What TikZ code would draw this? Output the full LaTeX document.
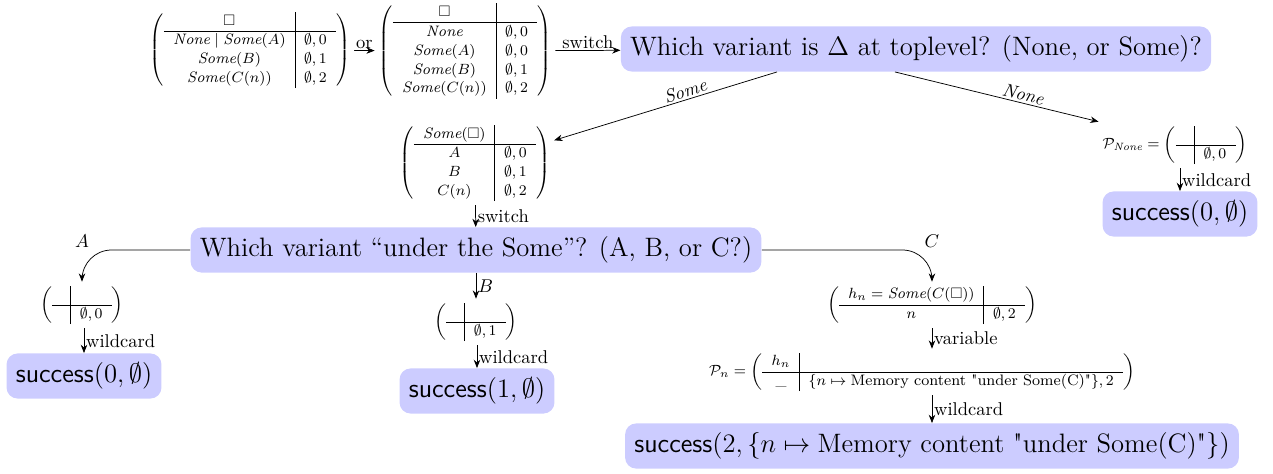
\documentclass[tikz,border=0pt]{standalone}
\usepackage{amsmath}
\usepackage{amssymb}
\usepackage{fontspec}
\usetikzlibrary{arrows.meta, positioning, calc}

\begin{document}
\begin{tikzpicture}[
    scale=0.95,
    >={Stealth[length=4.5pt, width=3.5pt]},
    arr/.style={->},
    lbl/.style={font=\normalsize, inner sep=1pt},
    mat/.style={font=\fontsize{8.2}{10.2}\selectfont, inner sep=2pt},
    qbox/.style={fill=blue!20, rounded corners=6pt, font=\Large, inner sep=5pt},
]
\useasboundingbox (0,0) rectangle (25.46,-9.46);
% ============================================================
% TOP ROW: initial matrices and first switch
% ============================================================
\node[mat] (m1) at (5.0, -1.0) {$\left(\begin{array}{c|c}
    \square & \\ \hline
    \mathit{None} \mid \mathit{Some}(A) & \emptyset, 0 \\
    \mathit{Some}(B) & \emptyset, 1 \\
    \mathit{Some}(C(n)) & \emptyset, 2
    \end{array}\right)$};
\node[mat] (m2) at (9.3, -1.02) {$\left(\begin{array}{c|c}
    \square & \\ \hline
    \mathit{None} & \emptyset, 0 \\
    \mathit{Some}(A) & \emptyset, 0 \\
    \mathit{Some}(B) & \emptyset, 1 \\
    \mathit{Some}(C(n)) & \emptyset, 2
    \end{array}\right)$};
\node[qbox] (q1) at (18.32, -0.98) {Which variant is $\Delta$ at toplevel? (None, or Some)?};
\draw[arr] (m1) -- node[above, lbl] {or} (m2);
\draw[arr] (m2) -- node[above, lbl] {switch} (q1);
% --- None branch (right) ---
\node[mat] (pnone) at (23.5, -2.9) {$\mathcal{P}_{\mathit{None}} = \left(\begin{array}{c|c}
    & \\ \hline
    & \emptyset, 0
    \end{array}\right)$};
\node[qbox] (sn) at (23.6, -4.28) {\textsf{success}$(0, \emptyset)$};
\draw[arr] ($(q1.south)+(-0.42,0)$) -- node[pos=0.62, above, sloped, lbl] {$\mathit{None}$} (pnone.north west);
\draw[arr] (pnone.south -| sn.north) -- node[right, lbl] {wildcard} (sn.north);
% --- Some branch ---
\node[mat] (m3) at (9.5, -3.26) {$\left(\begin{array}{c|c}
    \mathit{Some}(\square) & \\ \hline
    A & \emptyset, 0 \\
    B & \emptyset, 1 \\
    C(n) & \emptyset, 2
    \end{array}\right)$};
\draw[arr] ($(q1.south)+(-2.78,0)$) -- node[pos=0.4, above, sloped, lbl] {$\mathit{Some}$} (m3.16);
% ============================================================
% SECOND SWITCH: under the Some
% ============================================================
\node[qbox] (q2) at (9.52, -5.0) {Which variant ``under the Some''? (A, B, or C?)};
\draw[arr] (m3) -- node[right, lbl] {switch} (q2);
% --- A ---
\node[mat] (pa) at (1.64, -6.1) {$\left(\begin{array}{c|c}
    & \\ \hline
    & \emptyset, 0
    \end{array}\right)$};
\node[qbox] (sa) at (1.68, -7.52) {\textsf{success}$(0, \emptyset)$};
\draw[arr, rounded corners=16pt] (q2.west) -| node[pos=0.5, above, lbl] {$A$} (pa.north);
\draw[arr] (pa.south -| sa.north) -- node[right, lbl] {wildcard} (sa.north);
% --- B ---
\node[mat] (pb) at (9.52, -6.44) {$\left(\begin{array}{c|c}
    & \\ \hline
    & \emptyset, 1
    \end{array}\right)$};
\node[qbox] (sb) at (9.54, -7.82) {\textsf{success}$(1, \emptyset)$};
\draw[arr] (q2.south -| pb.north) -- node[right, lbl] {$B$} (pb.north);
\draw[arr] (pb.south -| sb.north) -- node[right, lbl] {wildcard} (sb.north);
% --- C ---
\node[mat] (pc) at (18.64, -6.1) {$\left(\begin{array}{c|c}
    h_n = \mathit{Some}(C(\square)) & \\ \hline
    n & \emptyset, 2
    \end{array}\right)$};
\node[mat] (pn) at (18.44, -7.44) {$\mathcal{P}_n = \left(\begin{array}{c|c}
    h_n & \\ \hline
    \text{\scriptsize\_} & \{n \mapsto \text{Memory content \textquotedbl under Some(C)\textquotedbl}\}, 2
    \end{array}\right)$};
\node[qbox] (sc) at (18.64, -8.92) {\textsf{success}$(2, \{n \mapsto \text{Memory content \textquotedbl under Some(C)\textquotedbl}\})$};
\draw[arr, rounded corners=16pt] (q2.east) -| node[pos=0.5, above, lbl] {$C$} (pc.north);
\draw[arr] (pc.south) -- node[right, lbl] {variable} (pc.south |- pn.north);
\draw[arr] (pc.south |- pn.south) -- node[right, lbl] {wildcard} (pc.south |- sc.north);
\end{tikzpicture}
\end{document}
